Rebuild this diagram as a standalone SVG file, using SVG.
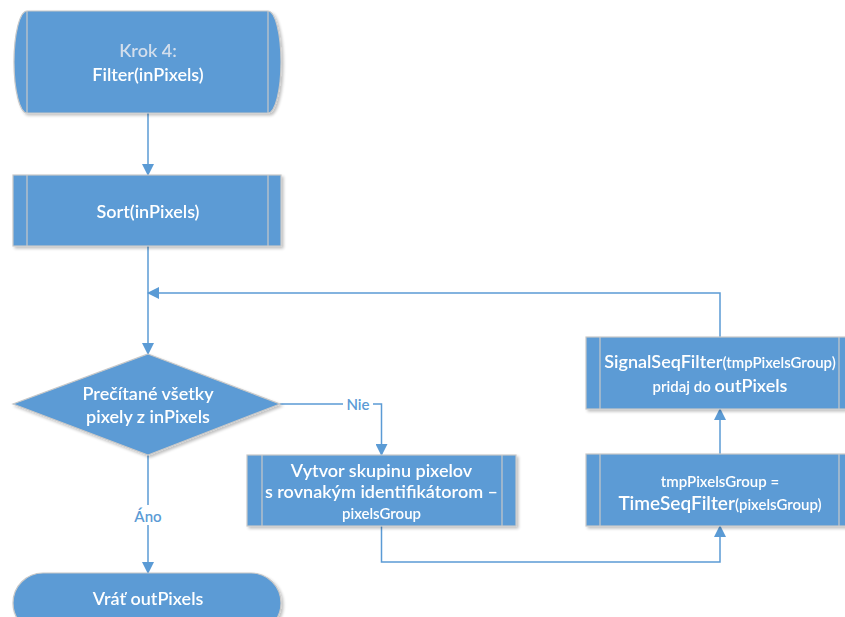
<svg xmlns="http://www.w3.org/2000/svg" width="845" height="617" viewBox="0 0 845 617">
<defs>
<style>
.shape{fill:#5B9BD5;stroke:#C8C8C8;stroke-width:1.2}
.inner{stroke:#C8C8C8;stroke-width:1.2;fill:none}
.t{font-family:Lato,"Open Sans",sans-serif;fill:#FFFFFF;text-anchor:middle;font-size:18px;font-weight:600}
.s{font-size:15px}
.pale{fill:#D3DEEC}
.conn{fill:none;stroke:#5B9BD5;stroke-width:1.5}
.lbl{font-family:Lato,"Open Sans",sans-serif;fill:#5B9BD5;font-size:15px;font-weight:600;text-anchor:middle}
</style>
<marker id="ah" markerWidth="12" markerHeight="12" viewBox="0 0 12 12" refX="11" refY="6" orient="auto" markerUnits="userSpaceOnUse">
<path d="M0,0 L12,6 L0,12 Z" fill="#5B9BD5"/>
</marker>
<filter id="sh" x="-5%" y="-10%" width="112%" height="125%">
<feGaussianBlur in="SourceAlpha" stdDeviation="1.5"/>
<feOffset dx="1.5" dy="2" result="b"/>
<feComponentTransfer><feFuncA type="linear" slope="0.25"/></feComponentTransfer>
<feMerge><feMergeNode/><feMergeNode in="SourceGraphic"/></feMerge>
</filter>
</defs>
<rect width="845" height="617" fill="#FFFFFF"/>

<g id="connectors">
<path class="conn" d="M148,113 V175" marker-end="url(#ah)"/>
<path class="conn" d="M148,246 V354" marker-end="url(#ah)"/>
<path class="conn" d="M720,337 V293 H148" marker-end="url(#ah)"/>
<path class="conn" d="M280,404 H381.5 V455" marker-end="url(#ah)"/>
<path class="conn" d="M148,455 V573" marker-end="url(#ah)"/>
<path class="conn" d="M381.5,526 V562 H720 V526" marker-end="url(#ah)"/>
<path class="conn" d="M720,454 V409" marker-end="url(#ah)"/>
<rect x="343" y="396" width="30" height="16" fill="#FFFFFF"/>
<text class="lbl" x="358" y="410">Nie</text>
<rect x="130" y="505" width="36" height="20" fill="#FFFFFF"/>
<text class="lbl" x="148" y="522">Áno</text>
</g>

<g id="start" filter="url(#sh)">
<path class="shape" d="M27,11 H268 A13,51 0 0 1 268,113 H27 A13,51 0 0 1 27,11 Z"/>
<path class="inner" d="M27,11 V113 M268,11 V113"/>
<text class="t pale" x="148" y="57">Krok 4:</text>
<text class="t" x="148" y="81">Filter(inPixels)</text>
</g>

<g id="sort" filter="url(#sh)">
<rect class="shape" x="13" y="175" width="268" height="71"/>
<path class="inner" d="M27,175 V246 M268,175 V246"/>
<text class="t" x="148" y="218">Sort(inPixels)</text>
</g>

<g id="decision" filter="url(#sh)">
<path class="shape" d="M148,354 L280,404 L148,455 L13,404 Z"/>
<text class="t" x="148" y="400">Prečítané všetky</text>
<text class="t" x="148" y="423">pixely z inPixels</text>
</g>

<g id="group" filter="url(#sh)">
<rect class="shape" x="247" y="455" width="269" height="71"/>
<path class="inner" d="M262,455 V526 M502,455 V526"/>
<text class="t" x="381.5" y="477">Vytvor skupinu pixelov</text>
<text class="t" x="381.5" y="498">s rovnakým identifikátorom –</text>
<text class="t s" x="381.5" y="519">pixelsGroup</text>
</g>

<g id="timeseq" filter="url(#sh)">
<rect class="shape" x="586" y="454" width="268" height="72"/>
<path class="inner" d="M600,454 V526 M839,454 V526"/>
<text class="t s" x="720" y="487">tmpPixelsGroup =</text>
<text class="t" x="720" y="510"><tspan font-size="19px">TimeSeqFilter</tspan><tspan class="s">(pixelsGroup)</tspan></text>
</g>

<g id="signalseq" filter="url(#sh)">
<rect class="shape" x="586" y="337" width="268" height="72"/>
<path class="inner" d="M600,337 V409 M839,337 V409"/>
<text class="t" x="720" y="368"><tspan>SignalSeqFilter</tspan><tspan class="s">(tmpPixelsGroup)</tspan></text>
<text class="t" x="720" y="392"><tspan class="s">pridaj do </tspan><tspan>outPixels</tspan></text>
</g>

<g id="end" filter="url(#sh)">
<rect class="shape" x="13" y="573" width="268" height="60" rx="30" ry="30"/>
<text class="t" x="148" y="605">Vráť outPixels</text>
</g>
</svg>
